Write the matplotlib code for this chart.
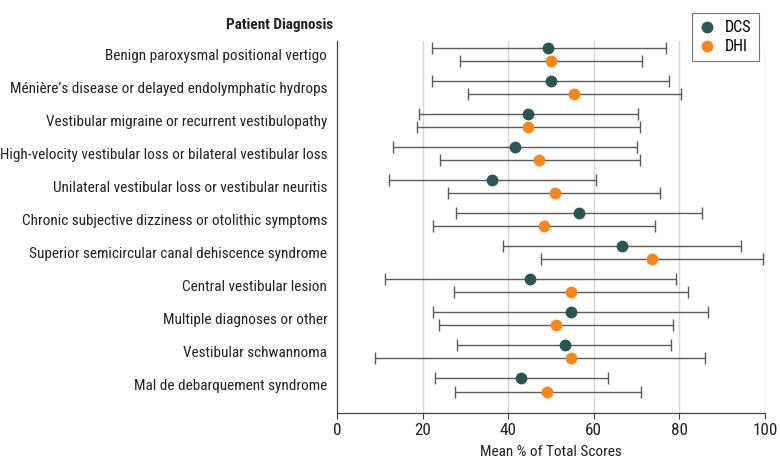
import matplotlib
matplotlib.use("Agg")
import matplotlib.pyplot as plt
import numpy as np
from matplotlib.lines import Line2D
from matplotlib import font_manager as fm

# pick a condensed font if one is installed
names = {f.name for f in fm.fontManager.ttflist}
family = None
for cand in ['Liberation Sans Narrow', 'Roboto Condensed', 'Open Sans Condensed', 'DejaVu Sans Condensed']:
    if cand in names:
        family = cand
        break
stretch = 'normal'
if family is None:
    dj = [f for f in fm.fontManager.ttflist if f.name == 'DejaVu Sans' and f.stretch == 'condensed']
    if dj:
        family = 'DejaVu Sans'
        stretch = 'condensed'
    else:
        family = 'Roboto'
plt.rcParams['font.family'] = [family, 'DejaVu Sans']
plt.rcParams['font.stretch'] = stretch

categories = [
    "Benign paroxysmal positional vertigo",
    "Ménière’s disease or delayed endolymphatic hydrops",
    "Vestibular migraine or recurrent vestibulopathy",
    "High-velocity vestibular loss or bilateral vestibular loss",
    "Unilateral vestibular loss or vestibular neuritis",
    "Chronic subjective dizziness or otolithic symptoms",
    "Superior semicircular canal dehiscence syndrome",
    "Central vestibular lesion",
    "Multiple diagnoses or other",
    "Vestibular schwannoma",
    "Mal de debarquement syndrome",
]

dcs_mean = [49.4, 49.9, 44.6, 41.6, 36.3, 56.5, 66.6, 45.2, 54.6, 53.2, 42.9]
dcs_low  = [22.1, 22.2, 19.2, 13.1, 12.1, 27.7, 38.7, 11.2, 22.5, 28.1, 22.8]
dcs_high = [76.9, 77.6, 70.3, 70.0, 60.6, 85.3, 94.3, 79.3, 86.7, 78.1, 63.3]

dhi_mean = [50.0, 55.4, 44.7, 47.3, 50.9, 48.4, 73.6, 54.6, 51.1, 54.6, 49.0]
dhi_low  = [28.8, 30.6, 18.6, 24.1, 26.0, 22.4, 47.7, 27.3, 23.9, 8.9, 27.5]
dhi_high = [71.2, 80.4, 70.7, 70.7, 75.5, 74.4, 99.5, 82.1, 78.4, 86.0, 71.1]

xticks = [0, 20, 40, 60, 80, 100]

dcs_color = "#2b5552"
dhi_color = "#f5871f"
err_color = "#5a5a5a"
text_color = "#222222"

fig = plt.figure(figsize=(7.8, 4.67), dpi=100)

# choose font size so the longest label fits the reference width (~329 px)
renderer = fig.canvas.get_renderer()
probe = fig.text(0, 0, categories[3], fontsize=10)
w10 = probe.get_window_extent(renderer=renderer).width
probe.remove()
fs = min(11.0, 10 * 329.0 / w10)

ax = fig.add_axes([337 / 780, 1 - 413 / 467, (765 - 337) / 780, (413 - 41) / 467])

y = np.arange(len(categories))
off = 0.2

for means, lows, highs, col, sgn, lab in [
    (dcs_mean, dcs_low, dcs_high, dcs_color, -1, "DCS"),
    (dhi_mean, dhi_low, dhi_high, dhi_color, 1, "DHI"),
]:
    m = np.array(means)
    lo = m - np.array(lows)
    hi = np.array(highs) - m
    ax.errorbar(m, y + sgn * off, xerr=[lo, hi], fmt='none', ecolor=err_color,
                elinewidth=1.0, capsize=4.5, capthick=1.0, zorder=2)
    ax.plot(m, y + sgn * off, 'o', color=col, markersize=7.5, zorder=3, label=lab)

ax.set_xlim(0, 100)
ax.set_ylim(10.85, -0.4)
ax.set_xticks(xticks)
ax.set_xticklabels([str(t) for t in xticks], fontsize=fs * 1.12, color=text_color)
ax.set_yticks(y)
ax.set_yticklabels(categories, fontsize=fs, color=text_color)
ax.tick_params(axis='y', length=0, pad=7)
ax.tick_params(axis='x', length=4, width=0.8, color="#444444", pad=3)
for xt in xticks[1:]:
    ax.axvline(xt, color="#d6d6d6", lw=1.0, zorder=0)
for s in ['top', 'right']:
    ax.spines[s].set_visible(False)
for s in ['left', 'bottom']:
    ax.spines[s].set_color("#444444")
    ax.spines[s].set_linewidth(0.9)

ax.set_xlabel("Mean % of Total Scores", fontsize=fs, color=text_color, labelpad=5)

fig.text(333 / 780, 1 - 25 / 467, "Patient Diagnosis", ha='right', va='center',
         fontsize=fs, fontweight='bold', color=text_color)

handles = [Line2D([], [], marker='o', ls='none', color=dcs_color, markersize=7.5),
           Line2D([], [], marker='o', ls='none', color=dhi_color, markersize=7.5)]
leg = fig.legend(handles, ["DCS", "DHI"], loc='upper left',
                 bbox_to_anchor=(692 / 780, 1 - 13 / 467), fontsize=fs * 1.05,
                 frameon=True, fancybox=False, edgecolor="#555555", borderaxespad=0,
                 handlelength=1.0, handletextpad=0.6, borderpad=0.45, labelspacing=0.25)
leg.get_frame().set_linewidth(0.8)

fig.savefig("out.png", dpi=100)
